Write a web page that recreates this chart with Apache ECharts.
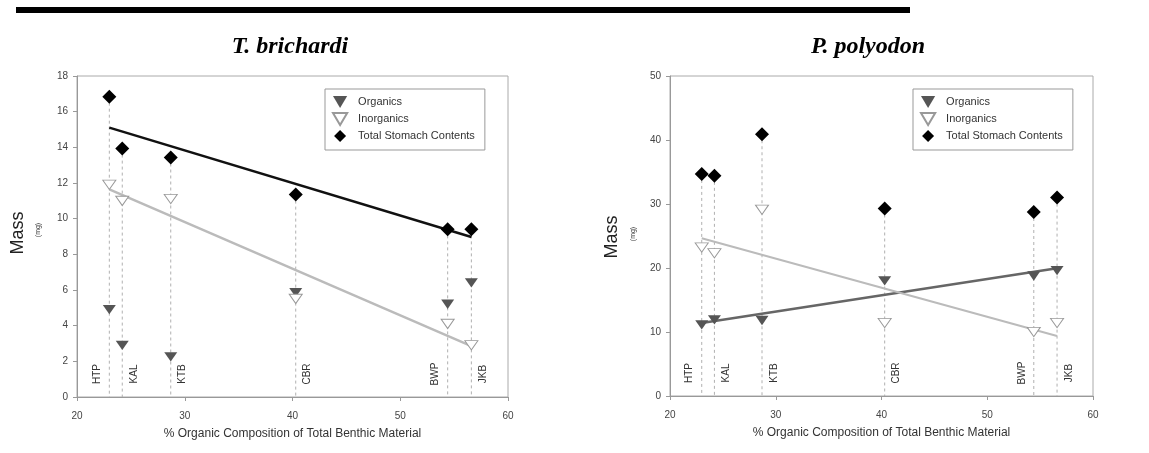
<!DOCTYPE html>
<html>
<head>
<meta charset="utf-8">
<script src="https://cdn.jsdelivr.net/npm/echarts@6/dist/echarts.min.js"></script>
<style>
html,body{margin:0;padding:0;background:#fff;}
#c{width:1149px;height:453px;}
</style>
</head>
<body>
<div id="c"></div>
<script>
// ---- data ----
const sites = ['HTP', 'KAL', 'KTB', 'CBR', 'BWP', 'JKB'];
const organicPct = [23.0, 24.2, 28.7, 40.3, 54.4, 56.6];
const tbOrganics = [4.9, 2.9, 2.25, 5.85, 5.2, 6.4];
const tbInorganics = [11.9, 11.0, 11.1, 5.5, 4.1, 2.9];
const tbTotal = [16.84, 13.93, 13.43, 11.35, 9.4, 9.4];
const ppOrganics = [11.1, 11.9, 11.8, 18.0, 18.75, 19.6];
const ppInorganics = [23.2, 22.3, 29.1, 11.4, 10.0, 11.4];
const ppTotal = [34.7, 34.4, 40.9, 29.3, 28.75, 31.0];
const xTicks = [20, 30, 40, 50, 60];
const tbYTicks = [0, 2, 4, 6, 8, 10, 12, 14, 16, 18];
const ppYTicks = [0, 10, 20, 30, 40, 50];

// ---- layout config (not data) ----
const labelSide = {HTP: -1, KAL: 1, KTB: 1, CBR: 1, BWP: -1, JKB: 1};

function fit(xs, ys) {
  const n = xs.length;
  const mx = xs.reduce((a, b) => a + b, 0) / n;
  const my = ys.reduce((a, b) => a + b, 0) / n;
  let sxy = 0, sxx = 0;
  for (let i = 0; i < n; i++) { sxy += (xs[i] - mx) * (ys[i] - my); sxx += (xs[i] - mx) * (xs[i] - mx); }
  const b = sxy / sxx, a = my - b * mx;
  const x0 = Math.min(...xs), x1 = Math.max(...xs);
  return [[x0, a + b * x0], [x1, a + b * x1]];
}
const pairs = ys => organicPct.map((x, i) => [x, ys[i]]);

const triPath = 'path://M0,0L13,0L6.5,11Z';
const diaPath = 'path://M7,0L14,7L7,14L0,7Z';
const font = 'Arial, "Liberation Sans", sans-serif';

function axes(idx, yt) {
  const x = {
    gridIndex: idx, type: 'value', min: xTicks[0], max: xTicks[xTicks.length - 1], interval: xTicks[1] - xTicks[0],
    name: '% Organic Composition of Total Benthic Material', nameLocation: 'middle', nameGap: 31,
    nameTextStyle: {fontFamily: font, fontSize: 12, color: '#333'},
    axisLine: {lineStyle: {color: '#999', width: 1}},
    axisTick: {show: true, length: 4, lineStyle: {color: '#999'}},
    axisLabel: {fontFamily: font, fontSize: 10, color: '#444', margin: 14},
    splitLine: {show: false}
  };
  const y = {
    gridIndex: idx, type: 'value', min: yt[0], max: yt[yt.length - 1], interval: yt[1] - yt[0],
    axisLine: {show: true, lineStyle: {color: '#999', width: 1}},
    axisTick: {show: true, length: 4, lineStyle: {color: '#999'}},
    axisLabel: {fontFamily: font, fontSize: 10, color: '#444', margin: 9},
    splitLine: {show: false}
  };
  return [x, y];
}

function dropSeries(idx, org, inorg, tot) {
  const data = sites.map((s, i) => [organicPct[i], Math.max(org[i], inorg[i], tot[i]), i]);
  return {
    type: 'custom', xAxisIndex: idx, yAxisIndex: idx, z: 1, silent: true,
    data: data,
    renderItem: function (params, api) {
      const xv = api.value(0), yv = api.value(1), i = api.value(2);
      const top = api.coord([xv, yv]);
      const bot = api.coord([xv, 0]);
      const name = sites[i];
      return {
        type: 'group',
        children: [
          {type: 'line', shape: {x1: top[0], y1: top[1], x2: bot[0], y2: bot[1]},
           style: {stroke: '#b0b0b0', lineWidth: 1, lineDash: [3, 3]}},
          {type: 'text', x: bot[0] + labelSide[name] * 12, y: bot[1] - 23, rotation: Math.PI / 2,
           style: {text: name, fontFamily: font, fontSize: 10, fill: '#333', align: 'center', verticalAlign: 'middle'}}
        ]
      };
    }
  };
}

function scat(idx, name, ys) {
  const base = {name: name, type: 'scatter', xAxisIndex: idx, yAxisIndex: idx, z: 4, data: pairs(ys), symbolKeepAspect: true};
  if (name === 'Organics') Object.assign(base, {symbol: triPath, symbolSize: [13, 11], itemStyle: {color: '#555', opacity: 1}});
  if (name === 'Inorganics') Object.assign(base, {symbol: triPath, symbolSize: [13, 11], itemStyle: {color: '#fff', borderColor: '#999', borderWidth: 1, opacity: 1}});
  if (name === 'Total Stomach Contents') Object.assign(base, {symbol: diaPath, symbolSize: [14, 14], itemStyle: {color: '#000', opacity: 1}});
  return base;
}

function trend(idx, name, ys, color, w) {
  return {name: name, type: 'line', xAxisIndex: idx, yAxisIndex: idx, z: 3, data: fit(organicPct, ys),
          symbol: 'none', lineStyle: {color: color, width: w}, silent: true};
}

function legend(left) {
  return {
    left: left, top: 89, orient: 'vertical', selectedMode: false,
    data: ['Organics', 'Inorganics', 'Total Stomach Contents'],
    itemWidth: 26, itemHeight: 12, itemGap: 4,
    borderColor: '#999', borderWidth: 1, padding: [7, 10, 8, 7],
    textStyle: {fontFamily: font, fontSize: 11, color: '#333'}
  };
}

const ax0 = axes(0, tbYTicks), ax1 = axes(1, ppYTicks);
const titleStyle = {fontFamily: '"Liberation Serif", "Times New Roman", serif', fontStyle: 'italic', fontWeight: 'bold', fontSize: 24, color: '#000'};
const option = {
  animation: false,
  title: [
    {text: 'T. brichardi', left: 290, top: 35, textAlign: 'center', padding: 0, textStyle: titleStyle},
    {text: 'P. polyodon', left: 868, top: 35, textAlign: 'center', padding: 0, textStyle: titleStyle}
  ],
  legend: [legend(325), legend(913)],
  grid: [
    {left: 77, right: 641, top: 76, bottom: 56, show: true, borderColor: '#aaa', borderWidth: 1},
    {left: 670, right: 56, top: 76, bottom: 57, show: true, borderColor: '#aaa', borderWidth: 1}
  ],
  xAxis: [ax0[0], ax1[0]],
  yAxis: [ax0[1], ax1[1]],
  graphic: [
    {type: 'rect', shape: {x: 16, y: 7, width: 894, height: 6}, style: {fill: '#000'}},
    {type: 'text', x: 18, y: 233, rotation: Math.PI / 2, style: {text: 'Mass', fontFamily: font, fontSize: 18, fill: '#222', align: 'center', verticalAlign: 'middle'}},
    {type: 'text', x: 38, y: 230, rotation: Math.PI / 2, style: {text: '(mg)', fontFamily: font, fontSize: 7, fill: '#333', align: 'center', verticalAlign: 'middle'}},
    {type: 'text', x: 612, y: 237, rotation: Math.PI / 2, style: {text: 'Mass', fontFamily: font, fontSize: 18, fill: '#222', align: 'center', verticalAlign: 'middle'}},
    {type: 'text', x: 633, y: 234, rotation: Math.PI / 2, style: {text: '(mg)', fontFamily: font, fontSize: 7, fill: '#333', align: 'center', verticalAlign: 'middle'}}
  ],
  series: [
    dropSeries(0, tbOrganics, tbInorganics, tbTotal),
    trend(0, 'tbTotalFit', tbTotal, '#111', 2.5),
    trend(0, 'tbInorgFit', tbInorganics, '#bbb', 2.5),
    scat(0, 'Organics', tbOrganics),
    scat(0, 'Inorganics', tbInorganics),
    scat(0, 'Total Stomach Contents', tbTotal),
    dropSeries(1, ppOrganics, ppInorganics, ppTotal),
    trend(1, 'ppOrgFit', ppOrganics, '#666', 2.5),
    trend(1, 'ppInorgFit', ppInorganics, '#bbb', 2),
    scat(1, 'Organics', ppOrganics),
    scat(1, 'Inorganics', ppInorganics),
    scat(1, 'Total Stomach Contents', ppTotal)
  ]
};
const chart = echarts.init(document.getElementById('c'), null, {renderer: 'canvas'});
chart.setOption(option);
</script>
</body>
</html>
